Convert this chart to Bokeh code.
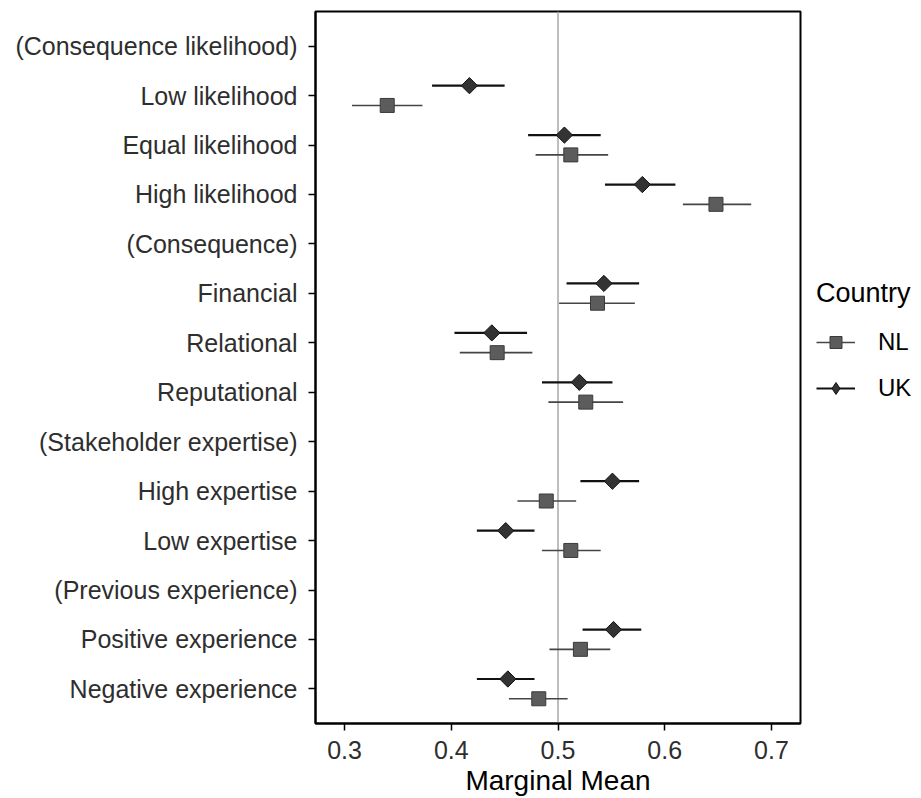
import numpy as np
from bokeh.plotting import figure
from bokeh.models import ColumnDataSource, FactorRange, Span, Legend, LegendItem, FixedTicker
from bokeh.transform import dodge
from bokeh.embed import file_html
from bokeh.resources import INLINE

categories = [
    "(Consequence likelihood)", "Low likelihood", "Equal likelihood", "High likelihood",
    "(Consequence)", "Financial", "Relational", "Reputational",
    "(Stakeholder expertise)", "High expertise", "Low expertise",
    "(Previous experience)", "Positive experience", "Negative experience",
]

levels = [
    "Low likelihood", "Equal likelihood", "High likelihood",
    "Financial", "Relational", "Reputational",
    "High expertise", "Low expertise",
    "Positive experience", "Negative experience",
]

nl_mean = [0.340, 0.512, 0.648, 0.537, 0.443, 0.526, 0.489, 0.512, 0.521, 0.482]
nl_lower = [0.307, 0.479, 0.617, 0.501, 0.408, 0.491, 0.462, 0.485, 0.492, 0.454]
nl_upper = [0.373, 0.547, 0.681, 0.572, 0.476, 0.561, 0.517, 0.540, 0.549, 0.509]

uk_mean = [0.417, 0.506, 0.579, 0.543, 0.438, 0.520, 0.551, 0.451, 0.552, 0.453]
uk_lower = [0.382, 0.472, 0.544, 0.508, 0.403, 0.485, 0.521, 0.424, 0.523, 0.424]
uk_upper = [0.450, 0.540, 0.610, 0.576, 0.471, 0.551, 0.576, 0.478, 0.578, 0.478]

x_ticks = [0.3, 0.4, 0.5, 0.6, 0.7]
x_tick_labels = ["0.3", "0.4", "0.5", "0.6", "0.7"]
reference_line = 0.5

FONT = "Liberation Sans"

nl_src = ColumnDataSource(dict(cat=levels, mean=nl_mean, lo=nl_lower, hi=nl_upper))
uk_src = ColumnDataSource(dict(cat=levels, mean=uk_mean, lo=uk_lower, hi=uk_upper))

y_range = FactorRange(factors=categories[::-1], range_padding=0.2,
                      range_padding_units="absolute")

p = figure(frame_width=485, frame_height=712, y_range=y_range, x_range=(0.2728, 0.7272),
           output_backend="svg", toolbar_location=None,
           min_border_left=315, min_border_right=121,
           min_border_top=11, min_border_bottom=75)

p.xgrid.visible = False
p.ygrid.visible = False
p.background_fill_color = "white"
p.border_fill_color = "white"
p.outline_line_color = "black"
p.outline_line_width = 2

ref = Span(location=reference_line, dimension="height", line_color="#a8a8a8",
           line_width=1.5, level="underlay")
p.add_layout(ref)

nl_y = dodge("cat", -0.2, range=p.y_range)
uk_y = dodge("cat", 0.2, range=p.y_range)

nl_seg = p.segment(x0="lo", x1="hi", y0=nl_y, y1=nl_y, source=nl_src,
                   line_color="#454545", line_width=1.6)
nl_pts = p.scatter(x="mean", y=nl_y, source=nl_src, marker="square", size=14,
                   fill_color="#5c5c5c", line_color="#3a3a3a", line_width=1)

uk_seg = p.segment(x0="lo", x1="hi", y0=uk_y, y1=uk_y, source=uk_src,
                   line_color="#111111", line_width=2.2)
uk_pts = p.scatter(x="mean", y=uk_y, source=uk_src, marker="square", angle=np.pi / 4,
                   size=11.5, fill_color="#333333", line_color="#111111", line_width=1)
# same UK series as a diamond marker, hidden in the plot, used for the legend key
uk_key = p.scatter(x="mean", y=uk_y, source=uk_src, marker="diamond", size=12,
                   fill_color="#333333", line_color="#111111", line_width=1,
                   visible=False)

# axes
for ax in (p.xaxis[0], p.yaxis[0]):
    ax.axis_line_color = "black"
    ax.axis_line_width = 2
    ax.major_tick_line_color = "black"
    ax.major_tick_line_width = 1.5
    ax.major_tick_out = 7
    ax.major_tick_in = 0
    ax.minor_tick_line_color = None
    ax.major_label_text_font = FONT
    ax.major_label_text_font_size = "25px"
    ax.major_label_text_color = "#2e2e2e"

p.xaxis.ticker = FixedTicker(ticks=x_ticks)
p.xaxis.major_label_overrides = {t: l for t, l in zip(x_ticks, x_tick_labels)}
p.xaxis.major_label_standoff = 10
p.xaxis.axis_label = "Marginal Mean"
p.xaxis.axis_label_text_font = FONT
p.xaxis.axis_label_text_font_size = "28px"
p.xaxis.axis_label_text_font_style = "normal"
p.xaxis.axis_label_text_color = "black"
p.xaxis.axis_label_standoff = 3
p.yaxis.major_label_standoff = 11

legend = Legend(
    items=[LegendItem(label="NL", renderers=[nl_seg, nl_pts]),
           LegendItem(label="UK", renderers=[uk_seg, uk_key])],
    title="Country", location=(16, 320),
    title_text_font=FONT, title_text_font_size="27px", title_text_font_style="normal",
    title_text_color="black", title_standoff=18,
    label_text_font=FONT, label_text_font_size="24px", label_text_color="black",
    glyph_width=39, glyph_height=30, label_standoff=23, spacing=16,
    padding=0, margin=0, border_line_color=None, background_fill_alpha=0,
)
p.add_layout(legend, "right")

open("out.html", "w").write(file_html(p, INLINE))
